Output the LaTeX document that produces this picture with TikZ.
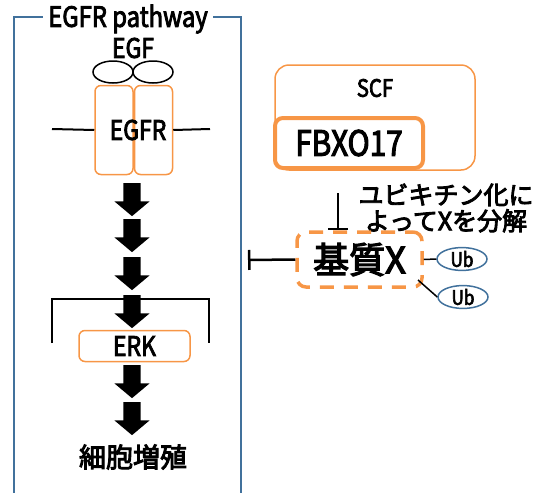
\documentclass[tikz,border=0pt]{standalone}
\usepackage{fontspec}
\setmainfont{Noto Sans CJK JP}[FakeStretch=0.85,FakeBold=3]
\newfontfamily\jpfont{Noto Sans CJK JP}[FakeBold=3.5]
\usetikzlibrary{arrows.meta}
\usetikzlibrary{shapes.arrows}
\usetikzlibrary{shapes.geometric}
\usetikzlibrary{positioning}
\definecolor{fborange}{HTML}{F79646}
\definecolor{frameblue}{HTML}{41719C}
\newcommand{\fsz}[1]{\fontsize{#1}{#1}\selectfont}

\begin{document}
\begin{tikzpicture}[x=1pt,y=-1pt]
\tikzset{recbox/.style={draw=fborange,line width=1.5pt,rounded corners=6pt,minimum width=38pt,minimum height=89pt},
  downarr/.style={single arrow,fill=black,draw=none,rotate=-90,inner sep=8.5pt,minimum height=33pt,single arrow head extend=9pt,single arrow tip angle=100},
  ubnode/.style={ellipse,draw=frameblue,line width=1.5pt,minimum width=50pt,minimum height=22pt,inner sep=0pt,font=\fsz{20}},
  stopline/.style={line width=2.5pt,-{Bar[width=20pt,line width=2.5pt]}}}
\useasboundingbox (0,0) rectangle (539,493);
% left frame
\node (title) at (128,19) {\fsz{28}EGFR pathway};
\draw[frameblue,line width=2pt] (title.west) ++(-2,-2) -- (14,17) -- (14,493);
\draw[frameblue,line width=2pt] (title.east) ++(2,-2) -- (241,17) -- (241,493);
\node (egf) at (133,48) {\fsz{27}EGF};
\draw[line width=1.5pt] (113,72) ellipse (20 and 11);
\draw[line width=1.5pt] (153,72) ellipse (20 and 11);
\node[recbox] (r1) at (114,130) {};
\node[recbox] (r2) at (153.5,130) {};
\draw[line width=2pt] (52,129) -- (r1.west);
\draw[line width=2pt] (r2.east) -- (210,129);
\node (egfr) at (138,130) {\fsz{27}EGFR};
\node[downarr] (a1) at (132,196) {};
\node[downarr] (a2) at (132,232) {};
\node[downarr] (a3) at (132,270) {};
\node[downarr] (a4) at (132,308) {};
\draw[line width=2pt] (52,343) -- (52,299) -- (209,299) -- (209,343);
\node[draw=fborange,line width=1.5pt,rounded corners=6pt,minimum width=111pt,minimum height=31pt] (erk) at (134.5,346) {\fsz{27}ERK};
\node[downarr] (a5) at (132,378) {};
\node[downarr] (a6) at (132,415) {};
\node (prolif) at (133,457) {\jpfont\fsz{27}細胞増殖};
% SCF complex
\node[draw=fborange,line width=1.5pt,rounded corners=14pt,minimum width=200pt,minimum height=105pt] (scf) at (375,117.5) {};
\node (scftext) at (375,88) {\fsz{24}SCF};
\node[draw=fborange,line width=4pt,rounded corners=8pt,minimum width=148pt,minimum height=50pt] (fbxo) at (349,143) {\fsz{35}FBXO17};
\node[align=center,font=\jpfont\fsz{25},inner sep=0pt] (ubtext) at (446,208) {ユビキチン化に\\[1pt]よってXを分解};
% substrate X
\node[draw=fborange,line width=3.5pt,dash pattern=on 14pt off 10pt,dash phase=6pt,rounded corners=9pt,minimum width=125pt,minimum height=55pt] (subx) at (359.5,259.5) {\jpfont\fsz{36}基質X};
\coordinate (inh) at (338,193);
\draw[stopline] (inh) -- (subx.north -| inh);
\coordinate (inhl) at (248,260);
\draw[stopline] (subx.west) -- (inhl);
\node[ubnode] (ub1) at (462,259) {Ub};
\node[ubnode] (ub2) at (463,297) {Ub};
\coordinate (subse) at (418,280);
\draw[line width=1.5pt] (subx.east) -- (ub1.west);
\draw[line width=1.5pt] (subse) -- (ub2.west);
\end{tikzpicture}
\end{document}
